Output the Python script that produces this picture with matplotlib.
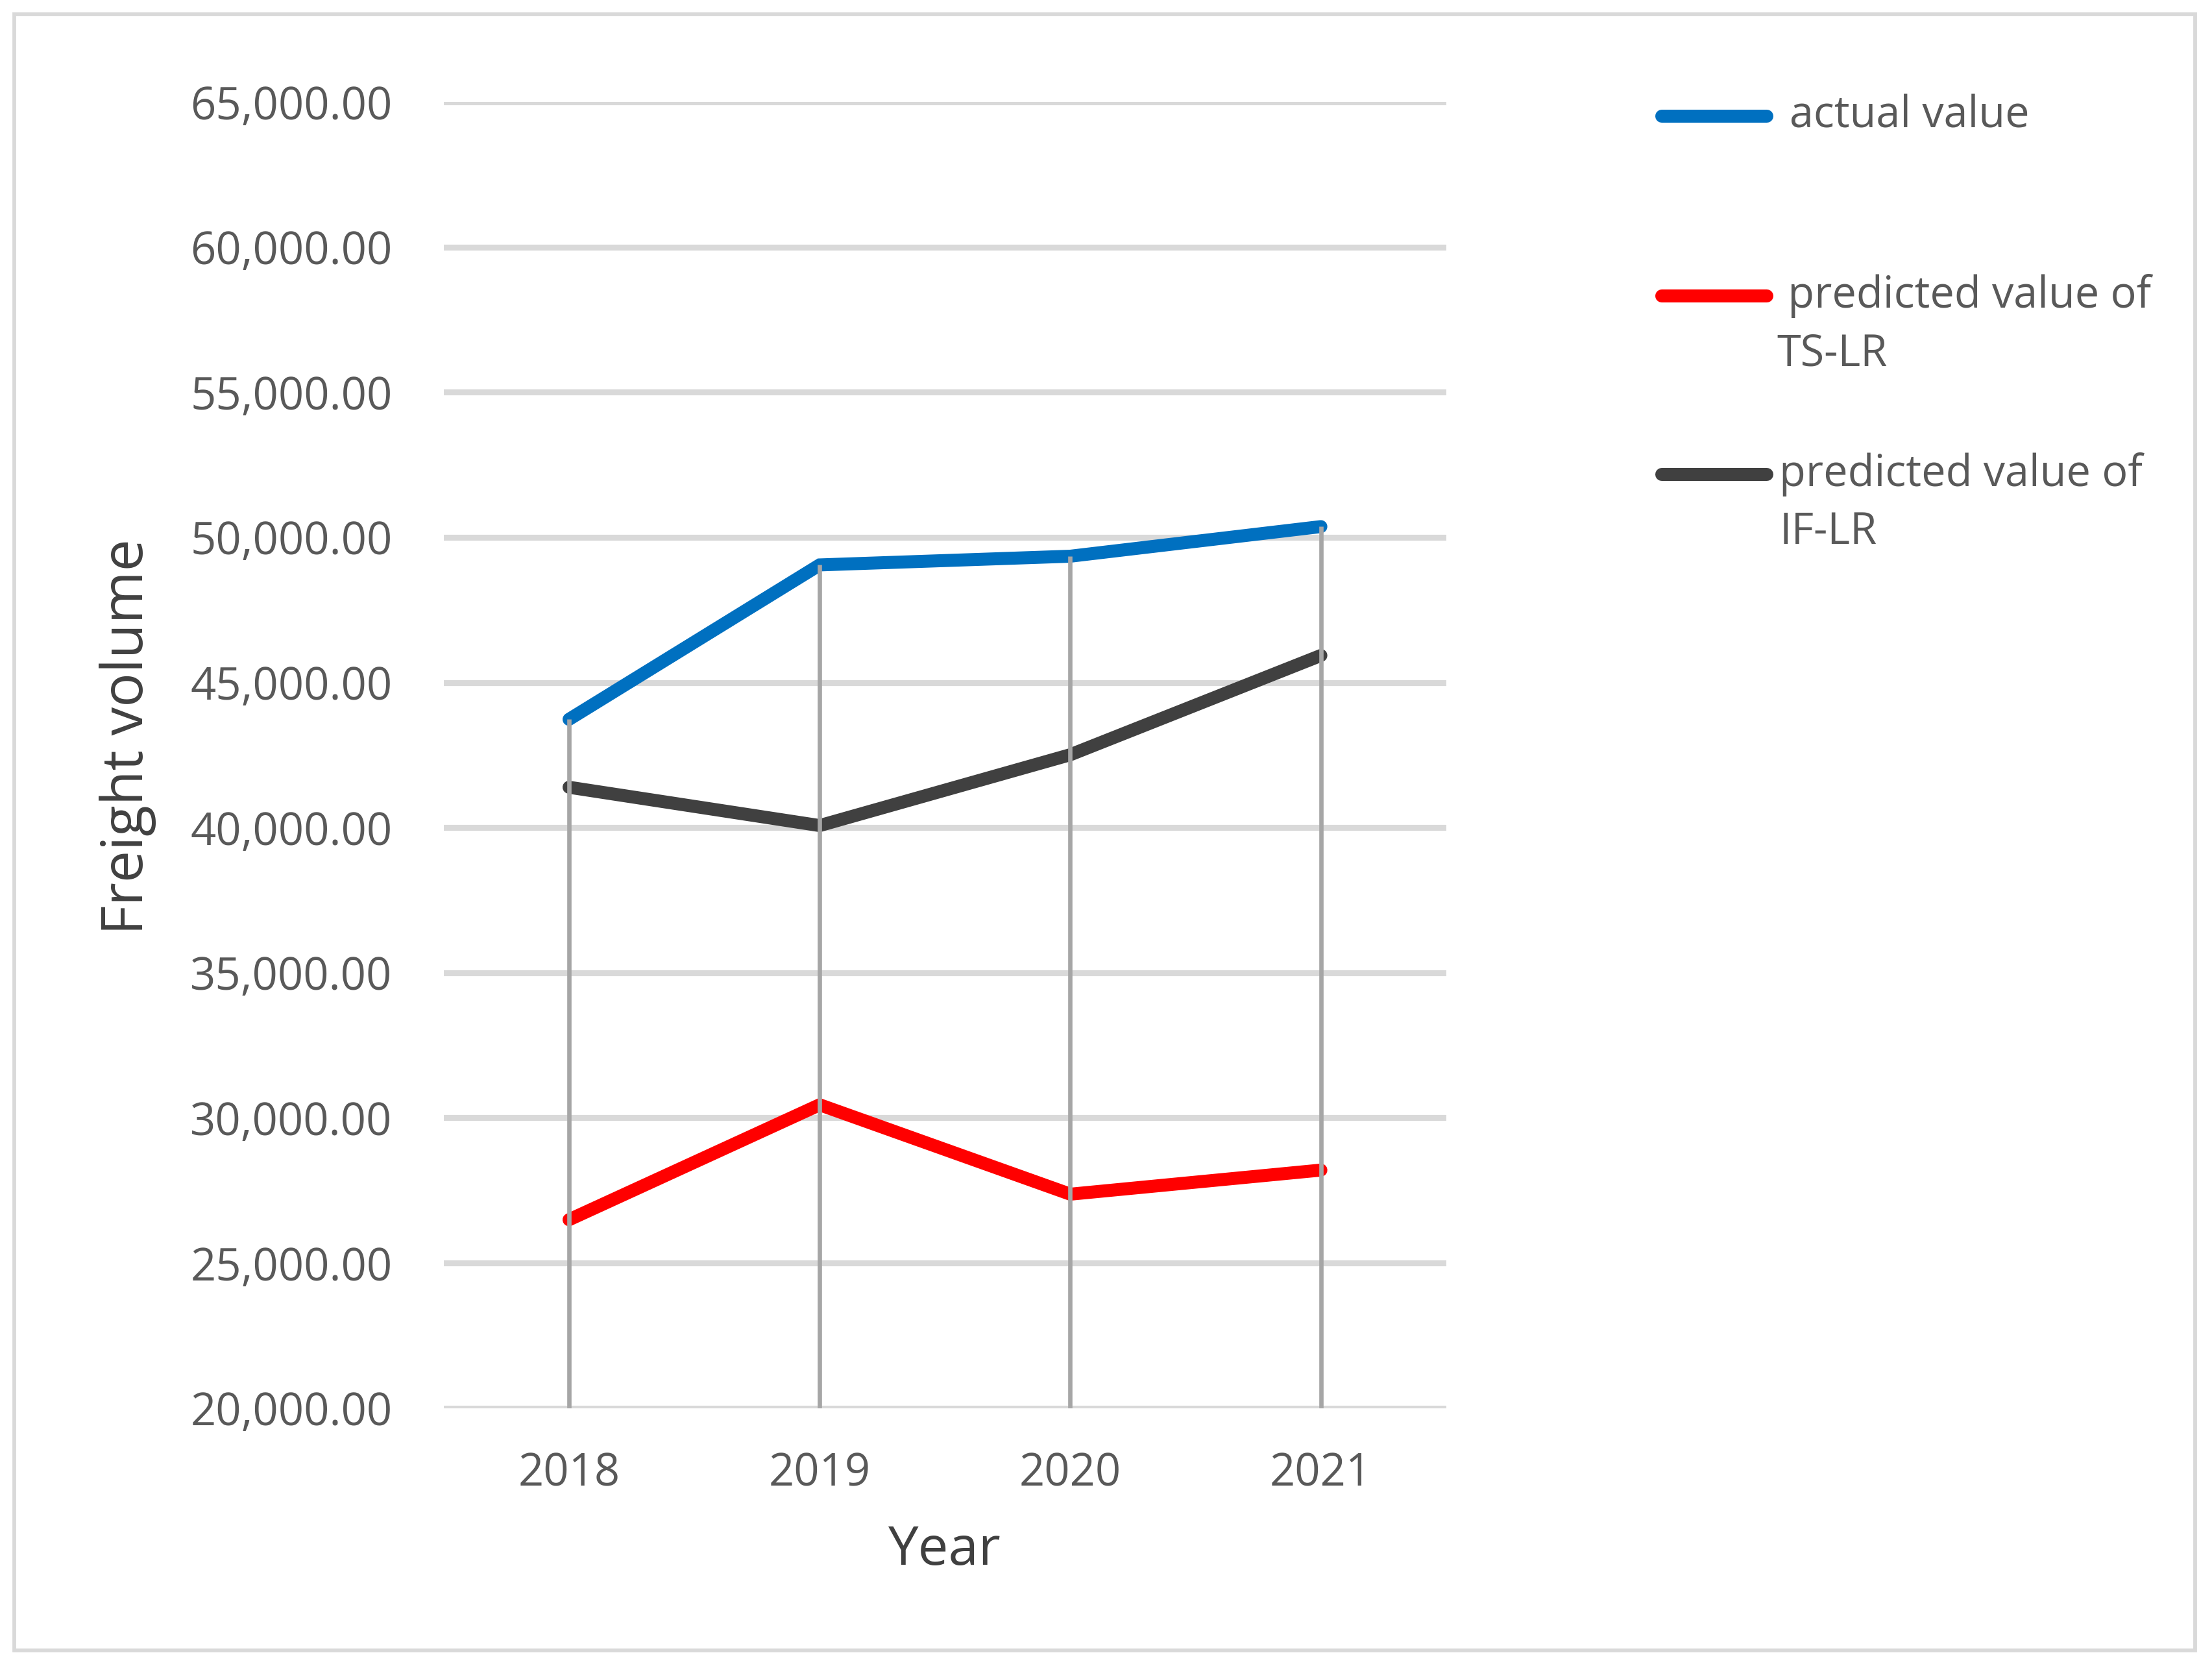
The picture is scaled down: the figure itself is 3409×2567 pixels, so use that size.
import matplotlib
matplotlib.use("Agg")
import matplotlib.pyplot as plt
from matplotlib.lines import Line2D
from matplotlib.patches import Rectangle
from matplotlib.ticker import FuncFormatter
import numpy as np

plt.rcParams['font.family'] = ['Open Sans', 'DejaVu Sans']

# data
years = ["2018", "2019", "2020", "2021"]
actual = [43730, 49050, 49350, 50370]
ts_lr = [26490, 30450, 27370, 28200]
if_lr = [41390, 40070, 42510, 45930]
labels = ["actual value", " predicted value of\nTS-LR", "predicted value of\nIF-LR"]
colors = ["#0070C0", "#FF0000", "#404040"]

fig = plt.figure(figsize=(3409 / 300, 2567 / 300), dpi=300)
ax = fig.add_axes([0.2006, 0.1548, 0.4532, 0.784])

x = np.arange(len(years))
for vals, c in zip([actual, ts_lr, if_lr], colors):
    ax.plot(x, vals, color=c, lw=4.8, solid_capstyle='round', solid_joinstyle='miter', zorder=3)

# drop lines from the highest point down to the axis
tops = np.max([actual, ts_lr, if_lr], axis=0)
ax.vlines(x, 20000, tops, color="#a6a6a6", lw=1.6, zorder=4)

ax.set_xlim(-0.5, 3.5)
ax.set_ylim(20000, 65000)
ax.set_yticks(np.arange(20000, 65001, 5000))
ax.yaxis.set_major_formatter(FuncFormatter(lambda v, p: f"{v:,.2f}"))
ax.set_xticks(x)
ax.set_xticklabels(years)
ax.grid(axis='y', color="#d9d9d9", lw=2.2, zorder=0)
ax.set_axisbelow(True)
for s in ax.spines.values():
    s.set_visible(False)
ax.tick_params(axis='both', length=0, labelsize=16.5, colors="#595959")
ax.tick_params(axis='y', pad=19)
ax.tick_params(axis='x', pad=16)

fig.text(90 / 1560, 1 - 520 / 1176, "Freight volume", rotation=90, ha='center', va='center',
         fontsize=21, color="#404040")
fig.text(666 / 1560, 1 - 1095 / 1176, "Year", ha='center', va='center', fontsize=20, color="#404040")

# legend drawn by hand to match the layout
leg_y = [1 - 82 / 1176, 1 - 209 / 1176, 1 - 335 / 1176]
text_x = [1262 / 1560, 1253 / 1560, 1255 / 1560]
for lab, c, yy, tx in zip(labels, colors, leg_y, text_x):
    fig.add_artist(Line2D([1172 / 1560, 1246 / 1560], [yy, yy], color=c, lw=4.8,
                          solid_capstyle='round', transform=fig.transFigure))
    lines = lab.split("\n")
    fig.text(tx, yy, lines[0], ha='left', va='center', fontsize=16, color="#595959")
    if len(lines) > 1:
        fig.text(tx, yy - 41 / 1176, lines[1], ha='left', va='center', fontsize=16, color="#595959")

fig.add_artist(Rectangle((10 / 1560, 1 - 1165 / 1176), 1538 / 1560, 1155 / 1176, fill=False,
                         edgecolor="#d9d9d9", lw=1.4, transform=fig.transFigure))

fig.savefig("out.png", dpi=300, facecolor="white")
